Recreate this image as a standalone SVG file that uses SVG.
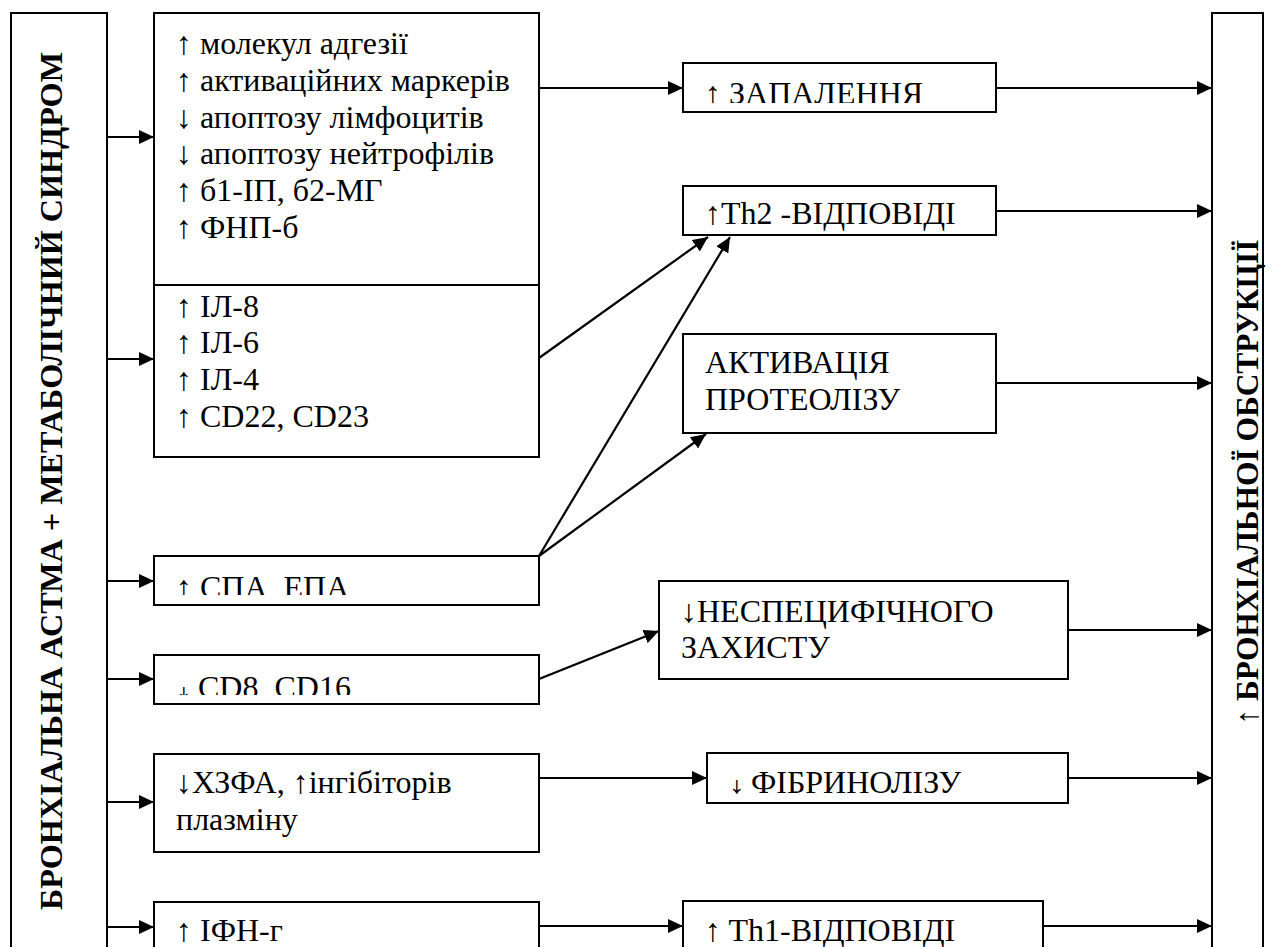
<svg xmlns="http://www.w3.org/2000/svg" width="1274" height="947" viewBox="0 0 1274 947">
<style>
.box{fill:none;stroke:#000;stroke-width:2}
.ln{fill:none;stroke:#000;stroke-width:2.2}
.t{font-family:"Liberation Serif","Times New Roman",serif;font-size:32px;fill:#000}
.vt{font-family:"Liberation Serif","Times New Roman",serif;font-size:32px;font-weight:bold;fill:#000}
</style>
<defs>
<marker id="ah" markerUnits="userSpaceOnUse" markerWidth="16" markerHeight="14" refX="15" refY="7" orient="auto">
<path d="M0,0 L15,7 L0,14 z" fill="#000"/>
</marker>
<clipPath id="cSPA"><rect x="154" y="556" width="385" height="39"/></clipPath>
<clipPath id="cCD8"><rect x="154" y="655" width="385" height="40"/></clipPath>
<clipPath id="cCD8a"><rect x="154" y="687" width="40" height="8"/></clipPath>
<clipPath id="cFIB"><rect x="720" y="780" width="40" height="14"/></clipPath>
<clipPath id="cZAP"><rect x="683" y="63" width="313" height="40"/></clipPath>
</defs>

<g id="left-main">
<path class="box" d="M11,947 V13 H107 V947"/>
<text class="vt" transform="translate(62,481) rotate(-90)" text-anchor="middle" textLength="858" lengthAdjust="spacingAndGlyphs">БРОНХІАЛЬНА АСТМА + МЕТАБОЛІЧНИЙ СИНДРОМ</text>
</g>

<g id="right-main">
<path class="box" d="M1212,947 V13 H1263 V947"/>
<text class="vt" transform="translate(1258,482) rotate(-90)" text-anchor="middle" textLength="485" lengthAdjust="spacingAndGlyphs">↑ БРОНХІАЛЬНОЇ ОБСТРУКЦІЇ</text>
</g>

<g id="markers-box">
<rect class="box" x="154" y="13" width="385" height="444"/>
<line class="box" x1="154" y1="285" x2="539" y2="285"/>
<text class="t" x="176" y="54">↑ молекул адгезії</text>
<text class="t" x="176" y="91">↑ активаційних маркерів</text>
<text class="t" x="176" y="128">↓ апоптозу лімфоцитів</text>
<text class="t" x="176" y="164">↓ апоптозу нейтрофілів</text>
<text class="t" x="176" y="201">↑ б1-ІП, б2-МГ</text>
<text class="t" x="176" y="238">↑ ФНП-б</text>
<text class="t" x="176" y="317">↑ ІЛ-8</text>
<text class="t" x="176" y="353">↑ ІЛ-6</text>
<text class="t" x="176" y="390">↑ ІЛ-4</text>
<text class="t" x="176" y="427">↑ CD22, CD23</text>
</g>

<g id="spa">
<rect class="box" x="154" y="556" width="385" height="49"/>
<text class="t" x="176" y="598" clip-path="url(#cSPA)">↑ СПА, ЕПА</text>
</g>

<g id="cd8">
<rect class="box" x="154" y="655" width="385" height="49"/>
<text class="t" x="176" y="698" clip-path="url(#cCD8a)">↓</text>
<text class="t" x="198" y="698" clip-path="url(#cCD8)">CD8, CD16</text>
</g>

<g id="xzfa">
<rect class="box" x="154" y="754" width="385" height="98"/>
<text class="t" x="176" y="793">↓ХЗФА, ↑інгібіторів</text>
<text class="t" x="176" y="830">плазміну</text>
</g>

<g id="ifn">
<path class="box" d="M154,947 V902 H539 V947"/>
<text class="t" x="176" y="941">↑ ІФН-г</text>
</g>

<g id="zapalennya">
<rect class="box" x="683" y="63" width="313" height="49"/>
<text class="t" x="705" y="104" clip-path="url(#cZAP)">↑ ЗАПАЛЕННЯ</text>
</g>

<g id="th2">
<rect class="box" x="683" y="186" width="313" height="49"/>
<text class="t" x="705" y="224">↑Th2 -ВІДПОВІДІ</text>
</g>

<g id="proteoliz">
<rect class="box" x="683" y="334" width="313" height="99"/>
<text class="t" x="705" y="373">АКТИВАЦІЯ</text>
<text class="t" x="705" y="410">ПРОТЕОЛІЗУ</text>
</g>

<g id="nespec">
<rect class="box" x="659" y="581" width="409" height="98"/>
<text class="t" x="681" y="622">↓НЕСПЕЦИФІЧНОГО</text>
<text class="t" x="681" y="658">ЗАХИСТУ</text>
</g>

<g id="fibrinoliz">
<rect class="box" x="707" y="753" width="361" height="50"/>
<text class="t" x="729" y="793" clip-path="url(#cFIB)">↓</text>
<text class="t" x="751" y="793">ФІБРИНОЛІЗУ</text>
</g>

<g id="th1">
<path class="box" d="M683,947 V901 H1043 V947"/>
<text class="t" x="705" y="941">↑ Th1-ВІДПОВІДІ</text>
</g>

<g id="connectors">
<line class="ln" x1="107" y1="137" x2="154" y2="137" marker-end="url(#ah)"/>
<line class="ln" x1="107" y1="359" x2="154" y2="359" marker-end="url(#ah)"/>
<line class="ln" x1="107" y1="581" x2="154" y2="581" marker-end="url(#ah)"/>
<line class="ln" x1="107" y1="679" x2="154" y2="679" marker-end="url(#ah)"/>
<line class="ln" x1="107" y1="802" x2="154" y2="802" marker-end="url(#ah)"/>
<line class="ln" x1="107" y1="927" x2="154" y2="927" marker-end="url(#ah)"/>

<line class="ln" x1="539" y1="88" x2="683" y2="88" marker-end="url(#ah)"/>
<line class="ln" x1="539" y1="358" x2="708" y2="237" marker-end="url(#ah)"/>
<line class="ln" x1="539" y1="556" x2="730" y2="237" marker-end="url(#ah)"/>
<line class="ln" x1="539" y1="556" x2="706" y2="434" marker-end="url(#ah)"/>
<line class="ln" x1="539" y1="679" x2="659" y2="631" marker-end="url(#ah)"/>
<line class="ln" x1="539" y1="778" x2="707" y2="778" marker-end="url(#ah)"/>
<line class="ln" x1="539" y1="926" x2="683" y2="926" marker-end="url(#ah)"/>

<line class="ln" x1="996" y1="88" x2="1212" y2="88" marker-end="url(#ah)"/>
<line class="ln" x1="996" y1="211" x2="1212" y2="211" marker-end="url(#ah)"/>
<line class="ln" x1="996" y1="383" x2="1212" y2="383" marker-end="url(#ah)"/>
<line class="ln" x1="1068" y1="630" x2="1212" y2="630" marker-end="url(#ah)"/>
<line class="ln" x1="1068" y1="778" x2="1212" y2="778" marker-end="url(#ah)"/>
<line class="ln" x1="1043" y1="926" x2="1212" y2="926" marker-end="url(#ah)"/>
</g>
</svg>
